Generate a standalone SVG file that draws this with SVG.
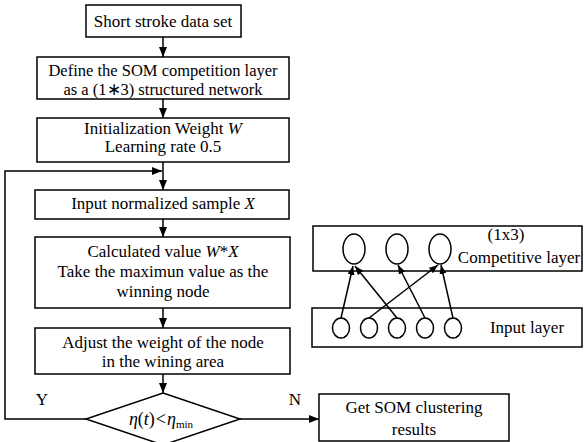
<svg xmlns="http://www.w3.org/2000/svg" width="584" height="442" viewBox="0 0 584 442">
<defs>
<marker id="ah" viewBox="0 0 10 8" refX="10" refY="4" markerWidth="10" markerHeight="8" markerUnits="userSpaceOnUse" orient="auto">
<path d="M0,0 L10,4 L0,8 Z" fill="#000"/>
</marker>
<marker id="sh" viewBox="0 0 9 7" refX="9" refY="3.5" markerWidth="9" markerHeight="7" markerUnits="userSpaceOnUse" orient="auto">
<path d="M0,0 L9,3.5 L0,7 Z" fill="#000"/>
</marker>
</defs>
<style>
rect,ellipse,polygon{fill:#fff;stroke:#000;stroke-width:1.5}
text{font-family:"Liberation Serif","Times New Roman",serif;font-size:17px;fill:#000;text-anchor:middle}
.i{font-style:italic}
.c line,.c polyline{stroke:#000;stroke-width:1.5;fill:none}
</style>
<rect width="584" height="442" style="fill:#fff;stroke:none"/>
<g class="c" id="connectors">
<line x1="163" y1="37" x2="163" y2="57" marker-end="url(#ah)"/>
<line x1="163" y1="99" x2="163" y2="118" marker-end="url(#ah)"/>
<line x1="163" y1="162" x2="163" y2="190" marker-end="url(#ah)"/>
<polyline points="86,419 5,419 5,171 162,171" marker-end="url(#ah)"/>
<line x1="163" y1="219" x2="163" y2="237" marker-end="url(#ah)"/>
<line x1="163" y1="308" x2="163" y2="328" marker-end="url(#ah)"/>
<line x1="163" y1="374" x2="163" y2="393" marker-end="url(#ah)"/>
<line x1="240" y1="419" x2="319" y2="419" marker-end="url(#ah)"/>
</g>
<g id="n1"><rect x="86" y="5" width="155" height="32"/><text x="163" y="27">Short stroke data set</text></g>
<g id="n2"><rect x="37" y="57" width="252" height="42"/><text x="163" y="76" style="font-size:16.5px">Define the SOM competition layer</text><text x="163" y="94.5" style="font-size:16.5px">as a (1∗3) structured network</text></g>
<g id="n3"><rect x="37" y="118" width="252" height="44"/><text x="163" y="134">Initialization Weight <tspan class="i">W</tspan></text><text x="163" y="152">Learning rate 0.5</text></g>
<g id="n4"><rect x="35" y="190" width="254" height="29"/><text x="163" y="209">Input normalized sample <tspan class="i">X</tspan></text></g>
<g id="n5"><rect x="35" y="237" width="255" height="71"/><text x="163" y="257">Calculated value <tspan class="i">W</tspan>*<tspan class="i">X</tspan></text><text x="163" y="277">Take the maximun value as the</text><text x="163" y="297">winning node</text></g>
<g id="n6"><rect x="35" y="328" width="255" height="46"/><text x="163" y="348">Adjust the weight of the node</text><text x="163" y="367">in the wining area</text></g>
<g id="n7"><polygon points="163,393 240,419 163,445 86,419"/><text x="161" y="425" style="font-size:18px"><tspan class="i">η</tspan>(<tspan class="i">t</tspan>)<tspan dx="1">&lt;</tspan><tspan class="i" dx="1">η</tspan><tspan style="font-size:11px" dy="3">min</tspan></text></g>
<g id="lY"><text x="42" y="405">Y</text></g>
<g id="lN"><text x="295" y="405">N</text></g>
<g id="n8"><rect x="319" y="394" width="190" height="47"/><text x="414" y="413">Get SOM clustering</text><text x="414" y="435">results</text></g>
<g id="comp"><rect x="313" y="226" width="269" height="45"/>
<ellipse cx="354" cy="249" rx="11" ry="15"/><ellipse cx="397" cy="249" rx="11" ry="15"/><ellipse cx="440" cy="249" rx="11" ry="15"/>
<text x="506" y="240">(1x3)</text><text x="519" y="263">Competitive layer</text></g>
<g id="input"><rect x="312" y="308" width="270" height="39"/>
<ellipse cx="341" cy="328" rx="8.5" ry="10"/><ellipse cx="369" cy="328" rx="8.5" ry="10"/><ellipse cx="397" cy="328" rx="8.5" ry="10"/><ellipse cx="425" cy="328" rx="8.5" ry="10"/><ellipse cx="453" cy="328" rx="8.5" ry="10"/>
<text x="527" y="333">Input layer</text></g>
<g class="c" id="net-connectors">
<line x1="341" y1="318" x2="353" y2="266" marker-end="url(#sh)"/>
<line x1="397" y1="318" x2="355" y2="266" marker-end="url(#sh)"/>
<line x1="425" y1="318" x2="398" y2="265" marker-end="url(#sh)"/>
<line x1="369" y1="318" x2="438" y2="265" marker-end="url(#sh)"/>
<line x1="453" y1="318" x2="441" y2="265" marker-end="url(#sh)"/>
</g>
</svg>
